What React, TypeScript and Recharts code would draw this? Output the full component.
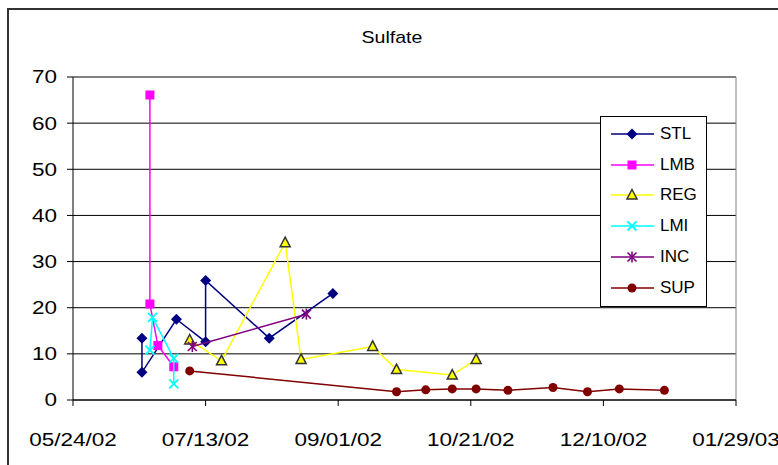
import React from 'react';
import { ScatterChart, Scatter, XAxis, YAxis, CartesianGrid, ReferenceLine } from 'recharts';

// sampling dates (ISO) and sulfate values
const stlDates = ['2002-06-19', '2002-06-19', '2002-07-02', '2002-07-13', '2002-07-13', '2002-08-06', '2002-08-30'];
const stlValues = [13.4, 6.0, 17.5, 12.6, 25.9, 13.4, 23.1];

const lmbDates = ['2002-06-22', '2002-06-22', '2002-06-25', '2002-07-01'];
const lmbValues = [66.1, 20.8, 11.8, 7.2];

const regDates = ['2002-07-07', '2002-07-19', '2002-08-12', '2002-08-18', '2002-09-14', '2002-09-23', '2002-10-14', '2002-10-23'];
const regValues = [13.0, 8.5, 34.1, 8.8, 11.6, 6.6, 5.4, 8.8];

const lmiDates = ['2002-06-22', '2002-06-23', '2002-07-01', '2002-07-01'];
const lmiValues = [10.8, 17.9, 9.0, 3.5];

const incDates = ['2002-07-08', '2002-08-20'];
const incValues = [11.6, 18.6];

const supDates = ['2002-07-07', '2002-09-23', '2002-10-04', '2002-10-14', '2002-10-23', '2002-11-04', '2002-11-21', '2002-12-04', '2002-12-16', '2003-01-02'];
const supValues = [6.3, 1.8, 2.2, 2.4, 2.4, 2.1, 2.7, 1.8, 2.4, 2.1];

// excel serial day numbers for 05/24/02 ... 01/29/03
const xTicks = [37400, 37450, 37500, 37550, 37600, 37650];
const yTicks = [0, 10, 20, 30, 40, 50, 60, 70];

const FONT = '"Liberation Sans", Arial, sans-serif';

const toSerial = (iso: string) => {
  const [y, m, d] = iso.split('-').map(Number);
  return Math.round((Date.UTC(y, m - 1, d) - Date.UTC(1899, 11, 30)) / 86400000);
};

const serialLabel = (serial: number) => {
  const dt = new Date(Date.UTC(1899, 11, 30) + serial * 86400000);
  const mm = String(dt.getUTCMonth() + 1).padStart(2, '0');
  const dd = String(dt.getUTCDate()).padStart(2, '0');
  const yy = String(dt.getUTCFullYear()).slice(2);
  return `${mm}/${dd}/${yy}`;
};

const build = (dates: string[], values: number[]) => dates.map((d, i) => ({ x: toSerial(d), y: values[i] }));

// marker shapes, Excel 2003 style
const Diamond = ({ cx, cy, color }: any) => (
  <polygon points={`${cx},${cy - 5.5} ${cx + 5.5},${cy} ${cx},${cy + 5.5} ${cx - 5.5},${cy}`} fill={color} />
);
const Square = ({ cx, cy, color }: any) => <rect x={cx - 4.5} y={cy - 4.5} width={9} height={9} fill={color} />;
const Triangle = ({ cx, cy, color }: any) => (
  <polygon points={`${cx},${cy - 5.5} ${cx + 5},${cy + 4} ${cx - 5},${cy + 4}`} fill={color} stroke="#333333" strokeWidth={1.5} />
);
const Cross = ({ cx, cy, color }: any) => (
  <g stroke={color} strokeWidth={1.8}>
    <line x1={cx - 4.5} y1={cy - 4.5} x2={cx + 4.5} y2={cy + 4.5} />
    <line x1={cx - 4.5} y1={cy + 4.5} x2={cx + 4.5} y2={cy - 4.5} />
  </g>
);
const Star = ({ cx, cy, color }: any) => (
  <g stroke={color} strokeWidth={1.6}>
    <line x1={cx - 4.5} y1={cy - 4.5} x2={cx + 4.5} y2={cy + 4.5} />
    <line x1={cx - 4.5} y1={cy + 4.5} x2={cx + 4.5} y2={cy - 4.5} />
    <line x1={cx} y1={cy - 5.5} x2={cx} y2={cy + 5.5} />
  </g>
);
const Dot = ({ cx, cy, color }: any) => <circle cx={cx} cy={cy} r={4.5} fill={color} />;

const series = [
  { name: 'STL', color: '#000080', Shape: Diamond, data: build(stlDates, stlValues) },
  { name: 'LMB', color: '#FF00FF', Shape: Square, data: build(lmbDates, lmbValues) },
  { name: 'REG', color: '#FFFF00', Shape: Triangle, data: build(regDates, regValues) },
  { name: 'LMI', color: '#00FFFF', Shape: Cross, data: build(lmiDates, lmiValues) },
  { name: 'INC', color: '#800080', Shape: Star, data: build(incDates, incValues) },
  { name: 'SUP', color: '#800000', Shape: Dot, data: build(supDates, supValues) },
];

const YTick = ({ x, y, payload }: any) => (
  <text transform={`translate(${x - 8},${y}) scale(1.25,1)`} textAnchor="end" dy="0.36em" fontSize={18} fontFamily={FONT} fill="#000">
    {payload.value}
  </text>
);

const XTick = ({ x, y, payload }: any) => (
  <text transform={`translate(${x},${y + 38}) scale(1.25,1)`} textAnchor="middle" fontSize={18} fontFamily={FONT} fill="#000">
    {serialLabel(payload.value)}
  </text>
);

const App: React.FC = () => {
  return (
    <div style={{ position: 'fixed', left: 0, top: 0, width: 778, height: 465, overflow: 'hidden', background: '#fff', fontFamily: FONT }}>
      {/* chart frame, cut off on the right and bottom like the original */}
      <div style={{ position: 'absolute', left: 7, top: 8, width: 900, height: 600, borderLeft: '2px solid #333', borderTop: '2px solid #333' }} />

      <div style={{ position: 'absolute', left: 292, top: 29, width: 200, textAlign: 'center', fontSize: 17, lineHeight: '17px', transform: 'scaleX(1.15)' }}>
        Sulfate
      </div>

      <div style={{ position: 'absolute', left: 0, top: 0 }}>
        <ScatterChart width={778} height={465} margin={{ top: 77, right: 42, bottom: 35, left: 0 }}>
          <CartesianGrid horizontal vertical={false} stroke="#000" />
          <XAxis
            type="number"
            dataKey="x"
            domain={[xTicks[0], xTicks[xTicks.length - 1]]}
            ticks={xTicks}
            allowDataOverflow
            tickSize={6}
            axisLine={{ stroke: '#000' }}
            tickLine={{ stroke: '#000' }}
            tick={<XTick />}
            height={30}
          />
          <YAxis
            type="number"
            dataKey="y"
            domain={[yTicks[0], yTicks[yTicks.length - 1]]}
            ticks={yTicks}
            tickSize={6}
            axisLine={{ stroke: '#000' }}
            tickLine={{ stroke: '#000' }}
            tick={<YTick />}
            width={73}
          />
          <ReferenceLine y={70} stroke="#808080" />
          <ReferenceLine x={xTicks[xTicks.length - 1]} stroke="#808080" />
          {series.map((s) => (
            <Scatter
              key={s.name}
              name={s.name}
              data={s.data}
              line={{ stroke: s.color, strokeWidth: 1.5 }}
              lineJointType="linear"
              shape={(p: any) => <s.Shape cx={p.cx} cy={p.cy} color={s.color} />}
              isAnimationActive={false}
            />
          ))}
        </ScatterChart>
      </div>

      {/* legend box */}
      <div style={{ position: 'absolute', left: 600, top: 116, width: 105, height: 189, border: '1px solid #000', background: '#fff' }}>
        {series.map((s, i) => (
          <div key={s.name} style={{ position: 'absolute', left: 9, top: 3 + i * 30.7, height: 28, display: 'flex', alignItems: 'center' }}>
            <svg width={45} height={14}>
              <line x1={1} y1={7} x2={44} y2={7} stroke={s.color} strokeWidth={1.5} />
              <s.Shape cx={22} cy={7} color={s.color} />
            </svg>
            <span style={{ fontSize: 17, marginLeft: 5, color: '#000' }}>{s.name}</span>
          </div>
        ))}
      </div>
    </div>
  );
};

export default App;
